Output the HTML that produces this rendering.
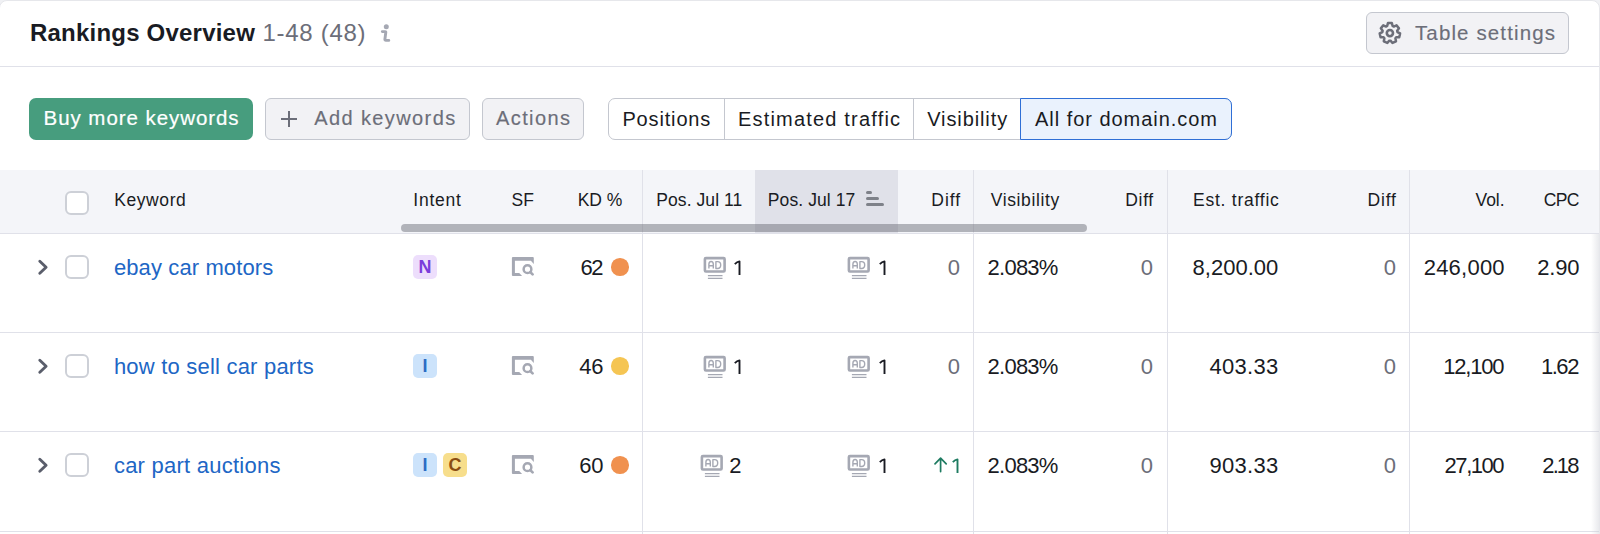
<!DOCTYPE html>
<html><head><meta charset="utf-8"><style>
html,body{margin:0;padding:0;width:1600px;height:534px;overflow:hidden;background:#F0F1F4;}
body{position:relative;font-family:"Liberation Sans",sans-serif;}
.t{position:absolute;white-space:nowrap;font-family:"Liberation Sans",sans-serif;}
.b{position:absolute;}
</style></head><body>
<div class="b" style="left:-1px;top:0px;width:1601px;height:560px;box-sizing:border-box;border:1px solid #E6E7EB;border-radius:8px;background:#fff;"></div>
<div class="t" style="left:30.00px;top:21px;font-size:24px;line-height:24px;color:#191B23;font-weight:700;letter-spacing:0.213px;">Rankings Overview</div>
<div class="t" style="left:262.50px;top:21px;font-size:24px;line-height:24px;color:#6C6E79;font-weight:400;letter-spacing:0.700px;">1-48 (48)</div>
<svg class="b" style="left:372px;top:18px" width="28" height="30" viewBox="0 0 28 30"><circle cx="14.3" cy="8.7" r="2.5" fill="#A5A8B3"/><path d="M10.3 13.6 H13.1 Q13.9 13.6 13.8 14.4 L12.9 21.3 Q12.8 22.4 13.9 22.4 H16.8" fill="none" stroke="#A5A8B3" stroke-width="2.9" stroke-linecap="round" stroke-linejoin="round"/></svg>
<div class="b" style="left:0px;top:66px;width:1599px;height:1px;background:#E0E1E9;"></div>
<div class="b" style="left:1366px;top:12px;width:203px;height:42px;box-sizing:border-box;border:1px solid #C4C7CF;border-radius:6px;background:#F2F2F5;"></div>
<svg class="b" style="left:1374px;top:18px" width="32" height="32" viewBox="0 0 32 32"><path fill="none" stroke="#6C6E79" stroke-width="2.5" stroke-linejoin="round" d="M13.18 8.00 L13.95 5.09 L17.85 5.09 L18.62 8.00 L19.75 8.55 L22.51 7.34 L24.94 10.38 L23.15 12.81 L23.42 14.02 L26.09 15.43 L25.23 19.23 L22.21 19.33 L21.43 20.31 L22.00 23.28 L18.49 24.97 L16.52 22.67 L15.28 22.67 L13.31 24.97 L9.80 23.28 L10.37 20.31 L9.59 19.33 L6.57 19.23 L5.71 15.43 L8.38 14.02 L8.65 12.81 L6.86 10.38 L9.29 7.34 L12.05 8.55 Z"/><circle cx="15.9" cy="15.1" r="3.1" fill="none" stroke="#6C6E79" stroke-width="2.6"/></svg>
<div class="t" style="left:1415.00px;top:23px;font-size:20.5px;line-height:20.5px;color:#6C6E79;font-weight:400;letter-spacing:1.123px;-webkit-text-stroke:0.15px #6C6E79;">Table settings</div>
<div class="b" style="left:29px;top:98px;width:224px;height:42px;border-radius:7px;background:#479D7E;"></div>
<div class="t" style="left:43.60px;top:108px;font-size:20.5px;line-height:20.5px;color:#fff;font-weight:400;letter-spacing:0.938px;-webkit-text-stroke:0.2px #fff;">Buy more keywords</div>
<div class="b" style="left:265px;top:98px;width:205px;height:42px;box-sizing:border-box;border:1px solid #C4C7CF;border-radius:6px;background:#F2F2F5;"></div>
<div class="b" style="left:281px;top:117.5px;width:16px;height:2.0px;background:#6C6E79;"></div>
<div class="b" style="left:288px;top:110.5px;width:2px;height:16.0px;background:#6C6E79;"></div>
<div class="t" style="left:314.20px;top:108px;font-size:20px;line-height:20px;color:#6C6E79;font-weight:400;letter-spacing:1.400px;-webkit-text-stroke:0.15px #6C6E79;">Add keywords</div>
<div class="b" style="left:482px;top:98px;width:102px;height:42px;box-sizing:border-box;border:1px solid #C4C7CF;border-radius:6px;background:#F2F2F5;"></div>
<div class="t" style="left:496.00px;top:108px;font-size:20px;line-height:20px;color:#6C6E79;font-weight:400;letter-spacing:1.400px;-webkit-text-stroke:0.15px #6C6E79;">Actions</div>
<div class="b" style="left:608px;top:98px;width:624px;height:42px;box-sizing:border-box;border:1px solid #C4C7CF;border-radius:7px;background:#fff;"></div>
<div class="b" style="left:724px;top:98px;width:1px;height:42px;background:#C4C7CF;"></div>
<div class="b" style="left:913px;top:98px;width:1px;height:42px;background:#C4C7CF;"></div>
<div class="b" style="left:1020px;top:98px;width:212px;height:42px;box-sizing:border-box;border:1.5px solid #2F6FD6;border-radius:0 7px 7px 0;background:#EAF2FD;"></div>
<div class="t" style="left:622.40px;top:109px;font-size:20px;line-height:20px;color:#191B23;font-weight:400;letter-spacing:0.850px;">Positions</div>
<div class="t" style="left:738.00px;top:109px;font-size:20px;line-height:20px;color:#191B23;font-weight:400;letter-spacing:1.188px;">Estimated traffic</div>
<div class="t" style="left:927.20px;top:109px;font-size:20px;line-height:20px;color:#191B23;font-weight:400;letter-spacing:0.900px;">Visibility</div>
<div class="t" style="left:1035.00px;top:109px;font-size:20px;line-height:20px;color:#191B23;font-weight:400;letter-spacing:0.965px;">All for domain.com</div>
<div class="b" style="left:0px;top:170px;width:1599px;height:63px;background:#F4F5F9;"></div>
<div class="b" style="left:755px;top:170px;width:143px;height:63px;background:#E0E1E9;"></div>
<div class="b" style="left:0px;top:233px;width:1599px;height:1px;background:#E0E1E9;"></div>
<div class="b" style="left:65px;top:191px;width:24px;height:24px;box-sizing:border-box;border:2px solid #CDD0D7;border-radius:6px;background:#fff;"></div>
<div class="t" style="left:114.20px;top:192px;font-size:17.5px;line-height:17.5px;color:#191B23;font-weight:400;letter-spacing:0.583px;">Keyword</div>
<div class="t" style="left:413.30px;top:192px;font-size:17.5px;line-height:17.5px;color:#191B23;font-weight:400;letter-spacing:0.760px;">Intent</div>
<div class="t" style="left:511.60px;top:192px;font-size:17.5px;line-height:17.5px;color:#191B23;font-weight:400;letter-spacing:0.000px;">SF</div>
<div class="t" style="left:577.70px;top:192px;font-size:17.5px;line-height:17.5px;color:#191B23;font-weight:400;letter-spacing:0.000px;">KD %</div>
<div class="t" style="left:656.30px;top:192px;font-size:17.5px;line-height:17.5px;color:#191B23;font-weight:400;letter-spacing:0.070px;">Pos. Jul 11</div>
<div class="t" style="left:767.80px;top:192px;font-size:17.5px;line-height:17.5px;color:#191B23;font-weight:400;letter-spacing:0.090px;">Pos. Jul 17</div>
<div class="b" style="left:866px;top:191px;width:5.5px;height:3px;background:#7E8189;border-radius:2px;"></div>
<div class="b" style="left:866px;top:197px;width:12.5px;height:3px;background:#7E8189;border-radius:2px;"></div>
<div class="b" style="left:866px;top:203px;width:17.5px;height:3px;background:#7E8189;border-radius:2px;"></div>
<div class="t" style="left:931.30px;top:192px;font-size:17.5px;line-height:17.5px;color:#191B23;font-weight:400;letter-spacing:1.000px;">Diff</div>
<div class="t" style="left:990.80px;top:192px;font-size:17.5px;line-height:17.5px;color:#191B23;font-weight:400;letter-spacing:0.611px;">Visibility</div>
<div class="t" style="left:1125.30px;top:192px;font-size:17.5px;line-height:17.5px;color:#191B23;font-weight:400;letter-spacing:0.667px;">Diff</div>
<div class="t" style="left:1193.00px;top:192px;font-size:17.5px;line-height:17.5px;color:#191B23;font-weight:400;letter-spacing:0.755px;">Est. traffic</div>
<div class="t" style="left:1367.60px;top:192px;font-size:17.5px;line-height:17.5px;color:#191B23;font-weight:400;letter-spacing:0.800px;">Diff</div>
<div class="t" style="left:1475.50px;top:192px;font-size:17.5px;line-height:17.5px;color:#191B23;font-weight:400;letter-spacing:-0.033px;">Vol.</div>
<div class="t" style="left:1543.70px;top:192px;font-size:17.5px;line-height:17.5px;color:#191B23;font-weight:400;letter-spacing:-0.600px;">CPC</div>
<div class="b" style="left:642px;top:170px;width:1px;height:364px;background:#E0E1E9;"></div>
<div class="b" style="left:973px;top:170px;width:1px;height:364px;background:#E0E1E9;"></div>
<div class="b" style="left:1167px;top:170px;width:1px;height:364px;background:#E0E1E9;"></div>
<div class="b" style="left:1409px;top:170px;width:1px;height:364px;background:#E0E1E9;"></div>
<div class="b" style="left:401px;top:224px;width:686px;height:8px;background:rgba(105,107,117,0.48);border-radius:4px;"></div>
<div class="b" style="left:0px;top:332px;width:1599px;height:1px;background:#E0E1E9;"></div>
<svg class="b" style="left:30px;top:252px" width="26" height="30" viewBox="0 0 26 30"><path d="M9.8 9.3 L16.1 15.2 L9.8 21.2" fill="none" stroke="#5A5E6B" stroke-width="2.9" stroke-linecap="round" stroke-linejoin="round"/></svg>
<div class="b" style="left:65px;top:255px;width:24px;height:24px;box-sizing:border-box;border:2px solid #CDD0D7;border-radius:6px;background:#fff;"></div>
<div class="t" style="left:113.90px;top:257px;font-size:22px;line-height:22px;color:#2066C5;font-weight:400;letter-spacing:0.114px;">ebay car motors</div>
<div class="b" style="left:413px;top:255px;width:24px;height:24px;background:#EDDEFC;border-radius:5px;"></div>
<div class="t" style="left:418.50px;top:258px;font-size:18px;line-height:18px;color:#7B3DDB;font-weight:700;letter-spacing:0.000px;">N</div>
<svg class="b" style="left:505px;top:250px" width="36" height="32" viewBox="0 0 36 32"><path d="M6.9 7.9 Q6.9 6.9 7.9 6.9 H27.8 Q28.8 6.9 28.8 7.9 V13.9 L25.9 10.8 H9.9 V23.1 H14.2 L17.1 26.1 H7.9 Q6.9 26.1 6.9 25.1 Z" fill="#A5A8B3"/><circle cx="22.5" cy="19.2" r="3.85" fill="none" stroke="#A5A8B3" stroke-width="2.5"/><path d="M25.3 22.1 L27.6 24.4" stroke="#A5A8B3" stroke-width="2.7" stroke-linecap="round"/></svg>
<div class="t" style="left:580.40px;top:257px;font-size:22px;line-height:22px;color:#191B23;font-weight:400;letter-spacing:-1.300px;">62</div>
<div class="b" style="left:611px;top:258px;width:17.5px;height:17.5px;background:#F0914F;border-radius:50%;"></div>
<svg class="b" style="left:728.0px;top:256.0px" width="18" height="24" viewBox="0 0 18 24"><path d="M6.8 8.1 Q9 5.9 11.5 5.4 V19" fill="none" stroke="#191B23" stroke-width="1.9" stroke-linejoin="round"/></svg>
<svg class="b" style="left:698.0px;top:250.0px" width="36" height="34" viewBox="0 0 36 34"><rect x="6.9" y="8.1" width="19.7" height="13.4" rx="1" fill="none" stroke="#A5A8B3" stroke-width="2.6"/><path d="M10.9 18.6 V14.3 Q10.9 11.5 13.1 11.5 Q15.3 11.5 15.3 14.3 V18.6 M10.9 15.7 H15.3 M17.9 11.6 V18.5 H19.6 Q22.7 18.5 22.7 15.05 Q22.7 11.6 19.6 11.6 Z" fill="none" stroke="#A5A8B3" stroke-width="1.4" stroke-linejoin="round"/><path d="M9.9 25.6 H24.5 M9.9 28.4 H24.5" stroke="#A5A8B3" stroke-width="1.3"/></svg>
<svg class="b" style="left:872.5px;top:256.0px" width="18" height="24" viewBox="0 0 18 24"><path d="M6.8 8.1 Q9 5.9 11.5 5.4 V19" fill="none" stroke="#191B23" stroke-width="1.9" stroke-linejoin="round"/></svg>
<svg class="b" style="left:842.0px;top:250.0px" width="36" height="34" viewBox="0 0 36 34"><rect x="6.9" y="8.1" width="19.7" height="13.4" rx="1" fill="none" stroke="#A5A8B3" stroke-width="2.6"/><path d="M10.9 18.6 V14.3 Q10.9 11.5 13.1 11.5 Q15.3 11.5 15.3 14.3 V18.6 M10.9 15.7 H15.3 M17.9 11.6 V18.5 H19.6 Q22.7 18.5 22.7 15.05 Q22.7 11.6 19.6 11.6 Z" fill="none" stroke="#A5A8B3" stroke-width="1.4" stroke-linejoin="round"/><path d="M9.9 25.6 H24.5 M9.9 28.4 H24.5" stroke="#A5A8B3" stroke-width="1.3"/></svg>
<div class="t" style="left:947.80px;top:257px;font-size:22px;line-height:22px;color:#6C6E79;font-weight:400;letter-spacing:0.000px;">0</div>
<div class="t" style="left:987.60px;top:257px;font-size:22px;line-height:22px;color:#191B23;font-weight:400;letter-spacing:-0.760px;">2.083%</div>
<div class="t" style="left:1140.80px;top:257px;font-size:22px;line-height:22px;color:#6C6E79;font-weight:400;letter-spacing:0.000px;">0</div>
<div class="t" style="left:1192.60px;top:257px;font-size:22px;line-height:22px;color:#191B23;font-weight:400;letter-spacing:0.000px;">8,200.00</div>
<div class="t" style="left:1383.80px;top:257px;font-size:22px;line-height:22px;color:#6C6E79;font-weight:400;letter-spacing:0.000px;">0</div>
<div class="t" style="left:1423.70px;top:257px;font-size:22px;line-height:22px;color:#191B23;font-weight:400;letter-spacing:0.233px;">246,000</div>
<div class="t" style="left:1537.30px;top:257px;font-size:22px;line-height:22px;color:#191B23;font-weight:400;letter-spacing:-0.233px;">2.90</div>
<div class="b" style="left:0px;top:431px;width:1599px;height:1px;background:#E0E1E9;"></div>
<svg class="b" style="left:30px;top:351px" width="26" height="30" viewBox="0 0 26 30"><path d="M9.8 9.3 L16.1 15.2 L9.8 21.2" fill="none" stroke="#5A5E6B" stroke-width="2.9" stroke-linecap="round" stroke-linejoin="round"/></svg>
<div class="b" style="left:65px;top:354px;width:24px;height:24px;box-sizing:border-box;border:2px solid #CDD0D7;border-radius:6px;background:#fff;"></div>
<div class="t" style="left:113.90px;top:356px;font-size:22px;line-height:22px;color:#2066C5;font-weight:400;letter-spacing:0.210px;">how to sell car parts</div>
<div class="b" style="left:413px;top:354px;width:24px;height:24px;background:#CCE3FB;border-radius:5px;"></div>
<div class="t" style="left:422.50px;top:357px;font-size:18px;line-height:18px;color:#2B6CC4;font-weight:700;letter-spacing:0.000px;">I</div>
<svg class="b" style="left:505px;top:349px" width="36" height="32" viewBox="0 0 36 32"><path d="M6.9 7.9 Q6.9 6.9 7.9 6.9 H27.8 Q28.8 6.9 28.8 7.9 V13.9 L25.9 10.8 H9.9 V23.1 H14.2 L17.1 26.1 H7.9 Q6.9 26.1 6.9 25.1 Z" fill="#A5A8B3"/><circle cx="22.5" cy="19.2" r="3.85" fill="none" stroke="#A5A8B3" stroke-width="2.5"/><path d="M25.3 22.1 L27.6 24.4" stroke="#A5A8B3" stroke-width="2.7" stroke-linecap="round"/></svg>
<div class="t" style="left:579.20px;top:356px;font-size:22px;line-height:22px;color:#191B23;font-weight:400;letter-spacing:-0.100px;">46</div>
<div class="b" style="left:611px;top:357px;width:17.5px;height:17.5px;background:#F5C553;border-radius:50%;"></div>
<svg class="b" style="left:728.0px;top:355.0px" width="18" height="24" viewBox="0 0 18 24"><path d="M6.8 8.1 Q9 5.9 11.5 5.4 V19" fill="none" stroke="#191B23" stroke-width="1.9" stroke-linejoin="round"/></svg>
<svg class="b" style="left:698.0px;top:349.0px" width="36" height="34" viewBox="0 0 36 34"><rect x="6.9" y="8.1" width="19.7" height="13.4" rx="1" fill="none" stroke="#A5A8B3" stroke-width="2.6"/><path d="M10.9 18.6 V14.3 Q10.9 11.5 13.1 11.5 Q15.3 11.5 15.3 14.3 V18.6 M10.9 15.7 H15.3 M17.9 11.6 V18.5 H19.6 Q22.7 18.5 22.7 15.05 Q22.7 11.6 19.6 11.6 Z" fill="none" stroke="#A5A8B3" stroke-width="1.4" stroke-linejoin="round"/><path d="M9.9 25.6 H24.5 M9.9 28.4 H24.5" stroke="#A5A8B3" stroke-width="1.3"/></svg>
<svg class="b" style="left:872.5px;top:355.0px" width="18" height="24" viewBox="0 0 18 24"><path d="M6.8 8.1 Q9 5.9 11.5 5.4 V19" fill="none" stroke="#191B23" stroke-width="1.9" stroke-linejoin="round"/></svg>
<svg class="b" style="left:842.0px;top:349.0px" width="36" height="34" viewBox="0 0 36 34"><rect x="6.9" y="8.1" width="19.7" height="13.4" rx="1" fill="none" stroke="#A5A8B3" stroke-width="2.6"/><path d="M10.9 18.6 V14.3 Q10.9 11.5 13.1 11.5 Q15.3 11.5 15.3 14.3 V18.6 M10.9 15.7 H15.3 M17.9 11.6 V18.5 H19.6 Q22.7 18.5 22.7 15.05 Q22.7 11.6 19.6 11.6 Z" fill="none" stroke="#A5A8B3" stroke-width="1.4" stroke-linejoin="round"/><path d="M9.9 25.6 H24.5 M9.9 28.4 H24.5" stroke="#A5A8B3" stroke-width="1.3"/></svg>
<div class="t" style="left:947.80px;top:356px;font-size:22px;line-height:22px;color:#6C6E79;font-weight:400;letter-spacing:0.000px;">0</div>
<div class="t" style="left:987.60px;top:356px;font-size:22px;line-height:22px;color:#191B23;font-weight:400;letter-spacing:-0.760px;">2.083%</div>
<div class="t" style="left:1140.80px;top:356px;font-size:22px;line-height:22px;color:#6C6E79;font-weight:400;letter-spacing:0.000px;">0</div>
<div class="t" style="left:1209.40px;top:356px;font-size:22px;line-height:22px;color:#191B23;font-weight:400;letter-spacing:0.300px;">403.33</div>
<div class="t" style="left:1383.80px;top:356px;font-size:22px;line-height:22px;color:#6C6E79;font-weight:400;letter-spacing:0.000px;">0</div>
<div class="t" style="left:1443.30px;top:356px;font-size:22px;line-height:22px;color:#191B23;font-weight:400;letter-spacing:-1.200px;">12,100</div>
<div class="t" style="left:1540.90px;top:356px;font-size:22px;line-height:22px;color:#191B23;font-weight:400;letter-spacing:-1.433px;">1.62</div>
<div class="b" style="left:0px;top:531px;width:1599px;height:1px;background:#E0E1E9;"></div>
<svg class="b" style="left:30px;top:450px" width="26" height="30" viewBox="0 0 26 30"><path d="M9.8 9.3 L16.1 15.2 L9.8 21.2" fill="none" stroke="#5A5E6B" stroke-width="2.9" stroke-linecap="round" stroke-linejoin="round"/></svg>
<div class="b" style="left:65px;top:453px;width:24px;height:24px;box-sizing:border-box;border:2px solid #CDD0D7;border-radius:6px;background:#fff;"></div>
<div class="t" style="left:113.90px;top:455px;font-size:22px;line-height:22px;color:#2066C5;font-weight:400;letter-spacing:0.244px;">car part auctions</div>
<div class="b" style="left:413px;top:453px;width:24px;height:24px;background:#CCE3FB;border-radius:5px;"></div>
<div class="t" style="left:422.50px;top:456px;font-size:18px;line-height:18px;color:#2B6CC4;font-weight:700;letter-spacing:0.000px;">I</div>
<div class="b" style="left:443px;top:453px;width:24px;height:24px;background:#F7DE8C;border-radius:5px;"></div>
<div class="t" style="left:448.50px;top:456px;font-size:18px;line-height:18px;color:#8A4D12;font-weight:700;letter-spacing:0.000px;">C</div>
<svg class="b" style="left:505px;top:448px" width="36" height="32" viewBox="0 0 36 32"><path d="M6.9 7.9 Q6.9 6.9 7.9 6.9 H27.8 Q28.8 6.9 28.8 7.9 V13.9 L25.9 10.8 H9.9 V23.1 H14.2 L17.1 26.1 H7.9 Q6.9 26.1 6.9 25.1 Z" fill="#A5A8B3"/><circle cx="22.5" cy="19.2" r="3.85" fill="none" stroke="#A5A8B3" stroke-width="2.5"/><path d="M25.3 22.1 L27.6 24.4" stroke="#A5A8B3" stroke-width="2.7" stroke-linecap="round"/></svg>
<div class="t" style="left:579.20px;top:455px;font-size:22px;line-height:22px;color:#191B23;font-weight:400;letter-spacing:-0.100px;">60</div>
<div class="b" style="left:611px;top:456px;width:17.5px;height:17.5px;background:#F0914F;border-radius:50%;"></div>
<div class="t" style="left:729.30px;top:455px;font-size:22px;line-height:22px;color:#191B23;font-weight:400;letter-spacing:0.000px;">2</div>
<svg class="b" style="left:694.8px;top:448.0px" width="36" height="34" viewBox="0 0 36 34"><rect x="6.9" y="8.1" width="19.7" height="13.4" rx="1" fill="none" stroke="#A5A8B3" stroke-width="2.6"/><path d="M10.9 18.6 V14.3 Q10.9 11.5 13.1 11.5 Q15.3 11.5 15.3 14.3 V18.6 M10.9 15.7 H15.3 M17.9 11.6 V18.5 H19.6 Q22.7 18.5 22.7 15.05 Q22.7 11.6 19.6 11.6 Z" fill="none" stroke="#A5A8B3" stroke-width="1.4" stroke-linejoin="round"/><path d="M9.9 25.6 H24.5 M9.9 28.4 H24.5" stroke="#A5A8B3" stroke-width="1.3"/></svg>
<svg class="b" style="left:872.5px;top:454.0px" width="18" height="24" viewBox="0 0 18 24"><path d="M6.8 8.1 Q9 5.9 11.5 5.4 V19" fill="none" stroke="#191B23" stroke-width="1.9" stroke-linejoin="round"/></svg>
<svg class="b" style="left:842.0px;top:448.0px" width="36" height="34" viewBox="0 0 36 34"><rect x="6.9" y="8.1" width="19.7" height="13.4" rx="1" fill="none" stroke="#A5A8B3" stroke-width="2.6"/><path d="M10.9 18.6 V14.3 Q10.9 11.5 13.1 11.5 Q15.3 11.5 15.3 14.3 V18.6 M10.9 15.7 H15.3 M17.9 11.6 V18.5 H19.6 Q22.7 18.5 22.7 15.05 Q22.7 11.6 19.6 11.6 Z" fill="none" stroke="#A5A8B3" stroke-width="1.4" stroke-linejoin="round"/><path d="M9.9 25.6 H24.5 M9.9 28.4 H24.5" stroke="#A5A8B3" stroke-width="1.3"/></svg>
<svg class="b" style="left:930px;top:454px" width="20" height="22" viewBox="0 0 20 22"><path d="M10.6 17.6 V4.4 M5 9.8 L10.6 4.2 L16.2 9.8" fill="none" stroke="#1E7B61" stroke-width="1.7" stroke-linecap="round" stroke-linejoin="round"/></svg>
<svg class="b" style="left:945.5px;top:454.0px" width="18" height="24" viewBox="0 0 18 24"><path d="M6.8 8.1 Q9 5.9 11.5 5.4 V19" fill="none" stroke="#1E7B61" stroke-width="1.9" stroke-linejoin="round"/></svg>
<div class="t" style="left:987.60px;top:455px;font-size:22px;line-height:22px;color:#191B23;font-weight:400;letter-spacing:-0.760px;">2.083%</div>
<div class="t" style="left:1140.80px;top:455px;font-size:22px;line-height:22px;color:#6C6E79;font-weight:400;letter-spacing:0.000px;">0</div>
<div class="t" style="left:1209.40px;top:455px;font-size:22px;line-height:22px;color:#191B23;font-weight:400;letter-spacing:0.300px;">903.33</div>
<div class="t" style="left:1383.80px;top:455px;font-size:22px;line-height:22px;color:#6C6E79;font-weight:400;letter-spacing:0.000px;">0</div>
<div class="t" style="left:1444.60px;top:455px;font-size:22px;line-height:22px;color:#191B23;font-weight:400;letter-spacing:-1.460px;">27,100</div>
<div class="t" style="left:1542.30px;top:455px;font-size:22px;line-height:22px;color:#191B23;font-weight:400;letter-spacing:-1.900px;">2.18</div>
<div class="b" style="left:1591px;top:234px;width:8px;height:300px;background:linear-gradient(to right,rgba(200,202,210,0),rgba(200,202,210,0.4));"></div>
</body></html>
